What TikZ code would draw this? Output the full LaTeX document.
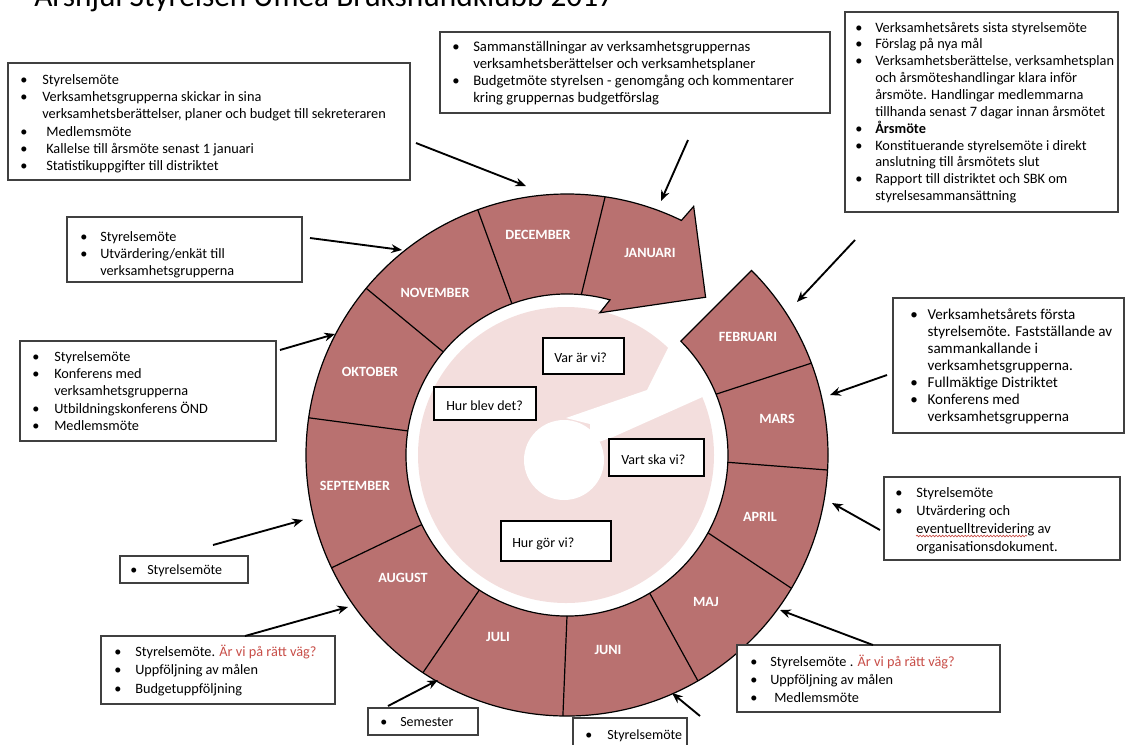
\documentclass[tikz,border=0pt]{standalone}
\usepackage{fontspec}
\setmainfont{Carlito}
\usetikzlibrary{arrows.meta,fit,decorations.pathmorphing}
\definecolor{ringc}{RGB}{185,113,112}
\definecolor{pinkc}{RGB}{243,222,221}
\definecolor{redq}{RGB}{200,78,72}
\newcommand{\blist}[4]{\fontsize{#1}{#2}\selectfont\begin{tabular}[t]{@{}p{#3}@{}l@{}}#4\end{tabular}}
\begin{document}
\begin{tikzpicture}[x=0.75pt,y=-0.75pt,
  box/.style={draw=black!75, line width=0.9pt, fill=white, inner sep=0pt},
  qbox/.style={draw=black, line width=0.9pt, fill=white, inner sep=0pt},
  mon/.style={text=white, font=\bfseries\fontsize{10.6}{12}\selectfont, inner sep=0pt},
  btxt/.style={anchor=base west, inner sep=0pt},
  qtxt/.style={anchor=base west, inner sep=0pt, font=\fontsize{10.5}{12}\selectfont},
  arr/.style={-{Stealth[length=8pt,width=6.5pt]}, line width=1.4pt, black},
  divl/.style={draw=black, line width=0.9pt}]
\useasboundingbox (0,0) rectangle (1128,744);
\clip (0,0) rectangle (1128,744);

% title (cut off at top)
\node[anchor=base west, inner sep=0pt, font=\fontsize{23.5}{28}\selectfont] (title) at (34,6) {Årshjul Styrelsen Umeå Brukshundklubb 2017};

% centre disk and logo
\coordinate (C) at (567,455);
\fill[pinkc] (566,455) circle[radius=111pt];
\fill[white] (564,460) circle[radius=30pt];
\fill[white] (590,424) -- (566,418) -- (647,390) -- (677,330) -- (730,300) -- (735,400) -- (707,395) -- (613,437) -- (590,445) -- cycle;

% ring arrow
\begin{scope}[shift={(C)}]
\filldraw[fill=ringc, draw=black, line width=0.9pt]
  (45:195.75pt) arc[start angle=45, end angle=-296, radius=195.75pt]
  -- (-297:209.25pt) -- (-311.3:157.5pt) -- (-283:109.5pt) -- (-285.5:120.75pt)
  arc[start angle=-285.5, end angle=45, radius=120.75pt] -- cycle;
\draw[divl] (22.2:120.75pt) -- (20.6:195.75pt);
\draw[divl] (-2.6:120.75pt) -- (-3.3:195.75pt);
\draw[divl] (-28.9:120.75pt) -- (-30.7:195.75pt);
\draw[divl] (-59.1:120.75pt) -- (-59.9:195.75pt);
\draw[divl] (-90:120.75pt) -- (-90.9:195.75pt);
\draw[divl] (-123:120.75pt) -- (-123.5:195.75pt);
\draw[divl] (-154.4:120.75pt) -- (-154.4:195.75pt);
\draw[divl] (-188.6:120.75pt) -- (-188.2:195.75pt);
\draw[divl] (-219.8:120.75pt) -- (-219.7:195.75pt);
\draw[divl] (-250:120.75pt) -- (-250:195.75pt);
\draw[divl] (-275.1:120.75pt) -- (-278.4:195.75pt);
\end{scope}

% month labels
\node[mon] (feb) at (748,337) {FEBRUARI};
\node[mon] (mar) at (777,419) {MARS};
\node[mon] (apr) at (760,517) {APRIL};
\node[mon] (maj) at (706,602) {MAJ};
\node[mon] (jun) at (608,650) {JUNI};
\node[mon] (jul) at (498,637) {JULI};
\node[mon] (aug) at (403,578) {AUGUST};
\node[mon] (sep) at (355,486) {SEPTEMBER};
\node[mon] (okt) at (370,372) {OKTOBER};
\node[mon] (nov) at (435,293) {NOVEMBER};
\node[mon] (dec) at (538,235) {DECEMBER};
\node[mon] (jan) at (650,253) {JANUARI};

% centre question boxes
\node[qbox, fit={(543,338) (624,374)}] (q1) {};
\node[qtxt] (q1t) at (554,362) {Var är vi?};
\node[qbox, fit={(434,387) (536,420)}] (q2) {};
\node[qtxt] (q2t) at (446,410) {Hur blev det?};
\node[qbox, fit={(609,439) (704,476)}] (q3) {};
\node[qtxt] (q3t) at (621,464) {Vart ska vi?};
\node[qbox, fit={(501,521) (611,561)}] (q4) {};
\node[qtxt] (q4t) at (512,547) {Hur gör vi?};

% annotation boxes
\node[box, fit={(8,63) (410,180)}] (b1) {};
\node[btxt] (b1t) at (20,84) {\blist{10.75}{13pt}{16.5pt}{%
• & Styrelsemöte\\
• & Verksamhetsgrupperna skickar in sina\\
  & verksamhetsberättelser, planer och budget till sekreteraren\\
• & \hspace{3pt}Medlemsmöte\\
• & \hspace{3pt}Kallelse till årsmöte senast 1 januari\\
• & \hspace{3pt}Statistikuppgifter till distriktet}};

\node[box, fit={(440,32) (830,113)}] (b2) {};
\node[btxt] (b2t) at (452,51) {\blist{11}{12.75pt}{15.75pt}{%
• & Sammanställningar av verksamhetsgruppernas\\
  & verksamhetsberättelser och verksamhetsplaner\\
• & Budgetmöte styrelsen - genomgång och kommentarer\\
  & kring gruppernas budgetförslag}};

\node[box, fit={(845,12) (1118,212)}] (b3) {};
\node[btxt] (b3t) at (855,32) {\blist{10.75}{12.6pt}{15pt}{%
• & Verksamhetsårets sista styrelsemöte\\
• & Förslag på nya mål\\
• & Verksamhetsberättelse, verksamhetsplan\\
  & och årsmöteshandlingar klara inför\\
  & årsmöte. Handlingar medlemmarna\\
  & tillhanda senast 7 dagar innan årsmötet\\
• & \textbf{Årsmöte}\\
• & Konstituerande styrelsemöte i direkt\\
  & anslutning till årsmötets slut\\
• & Rapport till distriktet och SBK om\\
  & styrelsesammansättning}};

\node[box, fit={(67,217) (302,282)}] (b4) {};
\node[btxt] (b4t) at (80,241) {\blist{10.7}{12.75pt}{15pt}{%
• & Styrelsemöte\\
• & Utvärdering/enkät till\\
  & verksamhetsgrupperna}};

\node[box, fit={(20,341) (276,441)}] (b5) {};
\node[btxt] (b5t) at (32,361) {\blist{10.7}{13pt}{16.5pt}{%
• & Styrelsemöte\\
• & Konferens med\\
  & verksamhetsgrupperna\\
• & Utbildningskonferens ÖND\\
• & Medlemsmöte}};

\node[box, fit={(120,556) (248,583)}] (b6) {};
\node[btxt] (b6t) at (130,574) {\blist{10.5}{13pt}{12.75pt}{• & Styrelsemöte}};

\node[box, fit={(101,636) (335,704)}] (b7) {};
\node[btxt] (b7t) at (114,656) {\blist{10.7}{13.9pt}{15.75pt}{%
• & Styrelsemöte. \textcolor{redq}{Är vi på rätt väg?}\\
• & Uppföljning av målen\\
• & Budgetuppföljning}};

\node[box, fit={(368,708) (478,735)}] (b8) {};
\node[btxt] (b8t) at (380,726) {\blist{10.5}{13pt}{15pt}{• & Semester}};

\node[box, fit={(573,718) (687,752)}] (b9) {};
\node[btxt] (b9t) at (585,739) {\blist{10.5}{13pt}{16.5pt}{• & Styrelsemöte}};

\node[box, fit={(737,645) (1000,712)}] (b10) {};
\node[btxt] (b10t) at (750,666) {\blist{10.7}{13.5pt}{15pt}{%
• & Styrelsemöte . \textcolor{redq}{Är vi på rätt väg?}\\
• & Uppföljning av målen\\
• & \hspace{3pt}Medlemsmöte}};

\node[box, fit={(884,477) (1120,560)}] (b11) {};
\node[btxt] (b11t) at (895,497) {\blist{10.8}{13.5pt}{15.75pt}{%
• & Styrelsemöte\\
• & Utvärdering och\\
  & eventuelltrevidering av\\
  & organisationsdokument.}};
\coordinate (sq1) at (916,536);
\coordinate (sq2) at (1027,536);
\draw[redq, line width=0.5pt, decorate, decoration={snake, amplitude=0.6pt, segment length=2.4pt}] (sq1) -- (sq2);

\node[box, fit={(893,298) (1124,433)}] (b12) {};
\node[btxt] (b12t) at (910,319) {\blist{11.3}{12.75pt}{13pt}{%
• & Verksamhetsårets första\\
  & styrelsemöte. Fastställande av\\
  & sammankallande i\\
  & verksamhetsgrupperna.\\
• & Fullmäktige Distriktet\\
• & Konferens med\\
  & verksamhetsgrupperna}};

% arrows
\coordinate (a1s) at (416,143);  \coordinate (a1e) at (526,186);
\coordinate (a2s) at (688,140);  \coordinate (a2e) at (661,201);
\coordinate (a3s) at (855,240);  \coordinate (a3e) at (797,302);
\coordinate (a4s) at (310,238);  \coordinate (a4e) at (402,250);
\coordinate (a5s) at (280,350);  \coordinate (a5e) at (335,334);
\coordinate (a6s) at (213,545);  \coordinate (a6e) at (303,520);
\coordinate (a7s) at (245,636);  \coordinate (a7e) at (348,607);
\coordinate (a8s) at (388,706);  \coordinate (a8e) at (438,680);
\coordinate (a9s) at (700,716);  \coordinate (a9e) at (672,693);
\coordinate (a10s) at (873,645); \coordinate (a10e) at (780,610);
\coordinate (a11s) at (880,530); \coordinate (a11e) at (832,503);
\coordinate (a12s) at (887,375); \coordinate (a12e) at (830,395);
\foreach \i in {1,...,12} {\draw[arr] (a\i s) -- (a\i e);}
\end{tikzpicture}
\end{document}
